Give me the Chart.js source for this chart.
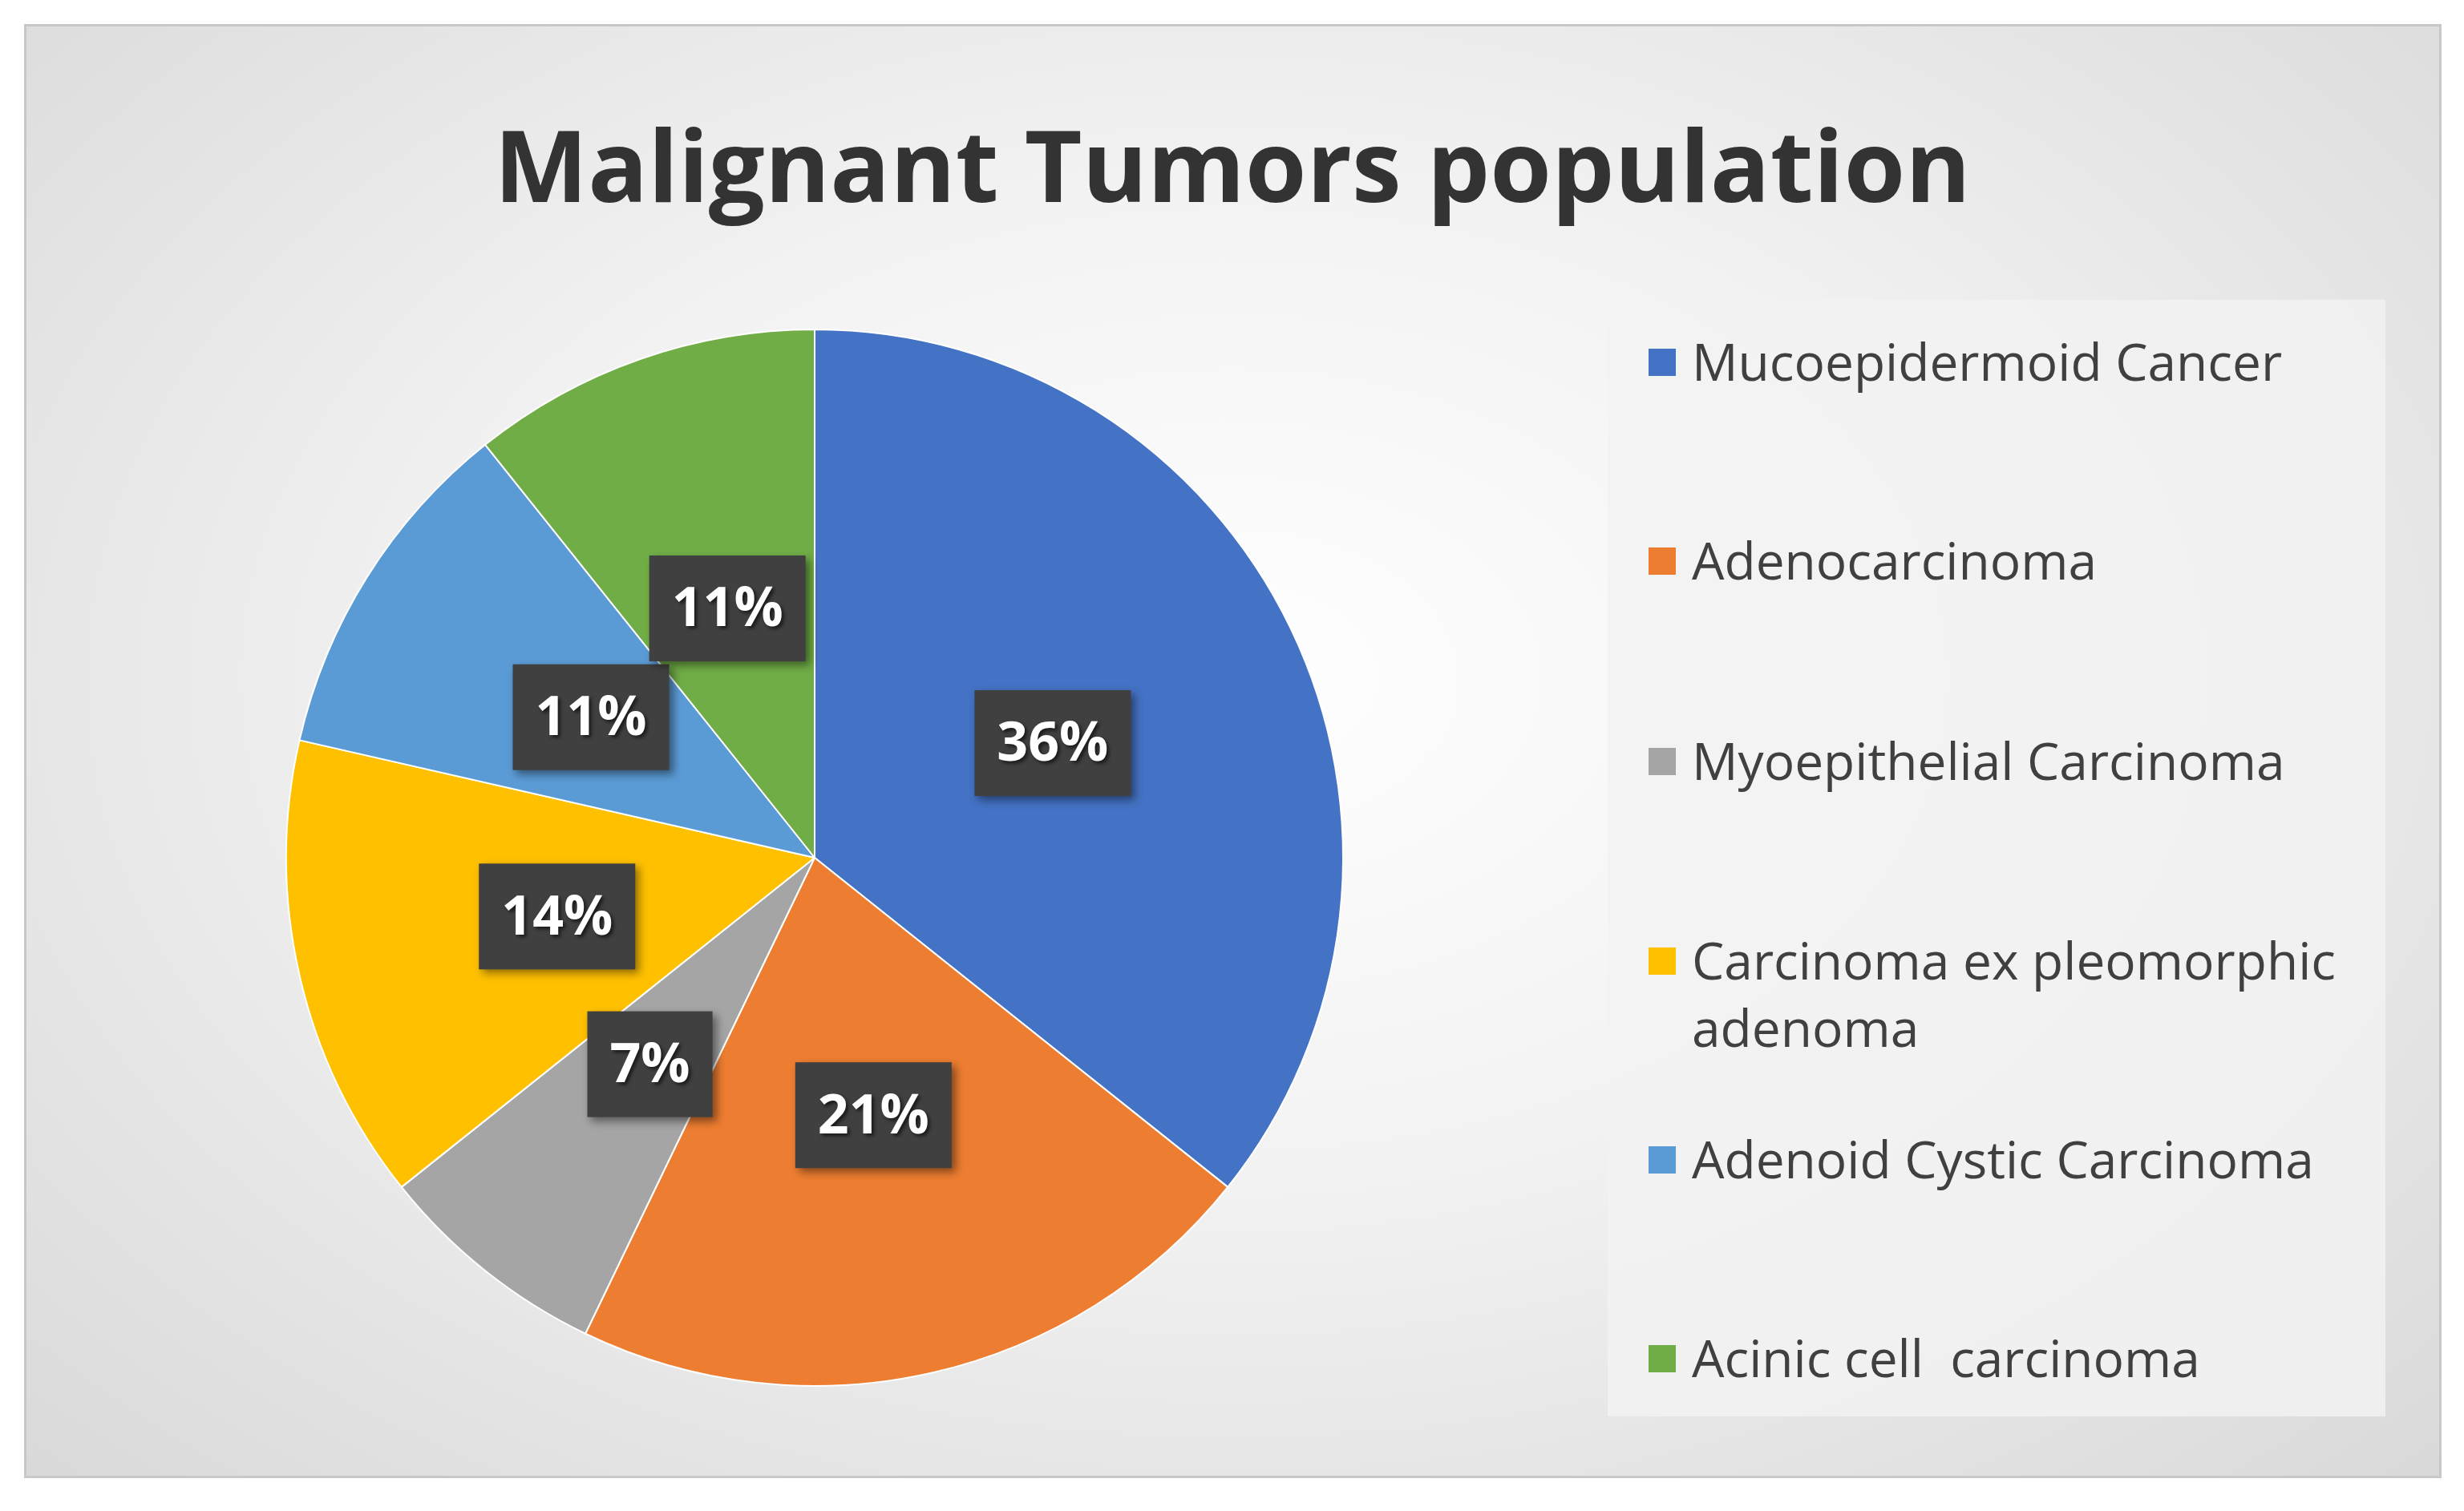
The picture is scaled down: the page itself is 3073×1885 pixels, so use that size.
<!DOCTYPE html>
<html><head><meta charset="utf-8">
<script src="https://cdn.jsdelivr.net/npm/chart.js@4"></script>
<style>
html,body{margin:0;padding:0;width:3073px;height:1885px;background:#fff;overflow:hidden}
#frame{position:absolute;left:30px;top:30px;width:3009px;height:1808px;border:3px solid #c8c8c8;
background:radial-gradient(ellipse at 50% 45%,#ffffff 0%,#f2f2f2 45%,#d9d9d9 100%)}
canvas{position:absolute;left:0;top:0}
</style></head><body>
<div id="frame"></div>
<canvas id="c" width="3073" height="1885"></canvas>
<script>
const title = "Malignant Tumors population";
const categories = ["Mucoepidermoid Cancer","Adenocarcinoma","Myoepithelial Carcinoma","Carcinoma ex pleomorphic adenoma","Adenoid Cystic Carcinoma","Acinic cell  carcinoma"];
const legendLines = [["Mucoepidermoid Cancer"],["Adenocarcinoma"],["Myoepithelial Carcinoma"],["Carcinoma ex pleomorphic","adenoma"],["Adenoid Cystic Carcinoma"],["Acinic cell  carcinoma"]];
const counts = [10,6,2,4,3,3];
const colors = ["#4472C4","#ED7D31","#A5A5A5","#FFC000","#5B9BD5","#70AD47"];

const deco = {
  id:'deco',
  beforeDraw(chart){
    const ctx=chart.ctx;
    ctx.save();
    ctx.fillStyle='rgba(242,242,242,0.85)';
    ctx.fillRect(2005,374,970,1393);
    ctx.restore();
  },
  afterDraw(chart){
    const ctx=chart.ctx;
    ctx.save();
    ctx.fillStyle='#333';
    ctx.font='bold 124px "Open Sans", sans-serif';
    ctx.textAlign='center';ctx.textBaseline='middle';
    ctx.fillText(title,1537,217);
    ctx.textAlign='left';
    ctx.font='64px "Open Sans", sans-serif';
    const ys=[457,705,955,1204,1452,1700];
    legendLines.forEach((lines,i)=>{
      ctx.fillStyle=colors[i];
      ctx.fillRect(2056,ys[i]-22,34,34);
      ctx.fillStyle='#404040';
      lines.forEach((t,j)=>ctx.fillText(t,2110,ys[i]+j*84));
    });
    const total=counts.reduce((a,b)=>a+b,0);
    const meta=chart.getDatasetMeta(0);
    ctx.font='bold 68px "Open Sans", sans-serif';
    ctx.textAlign='center';
    meta.data.forEach((arc,i)=>{
      const p=arc.getProps(['x','y','startAngle','endAngle','outerRadius'],true);
      const a=(p.startAngle+p.endAngle)/2, r=p.outerRadius*0.5;
      const x=p.x+Math.cos(a)*r, y=p.y+Math.sin(a)*r;
      const txt=Math.round(counts[i]/total*100)+'%';
      const w=ctx.measureText(txt).width+56, h=132;
      ctx.shadowColor='rgba(0,0,0,0.45)';ctx.shadowBlur=10;ctx.shadowOffsetX=5;ctx.shadowOffsetY=5;
      ctx.fillStyle='#404040';
      ctx.fillRect(x-w/2,y-h/2,w,h);
      ctx.shadowColor='rgba(0,0,0,0.6)';ctx.shadowBlur=4;ctx.shadowOffsetX=3;ctx.shadowOffsetY=3;
      ctx.fillStyle='#fff';
      ctx.fillText(txt,x,y+3);
      ctx.shadowColor='transparent';
    });
    ctx.restore();
  }
};

new Chart(document.getElementById('c'),{
  type:'pie',
  data:{labels:categories,datasets:[{data:counts,backgroundColor:colors,borderColor:'#ffffff',borderWidth:2}]},
  options:{
    responsive:false,animation:false,
    layout:{padding:{left:356,top:410,right:1397,bottom:155}},
    plugins:{legend:{display:false},tooltip:{enabled:false},title:{display:false}}
  },
  plugins:[deco]
});
</script>
</body></html>
